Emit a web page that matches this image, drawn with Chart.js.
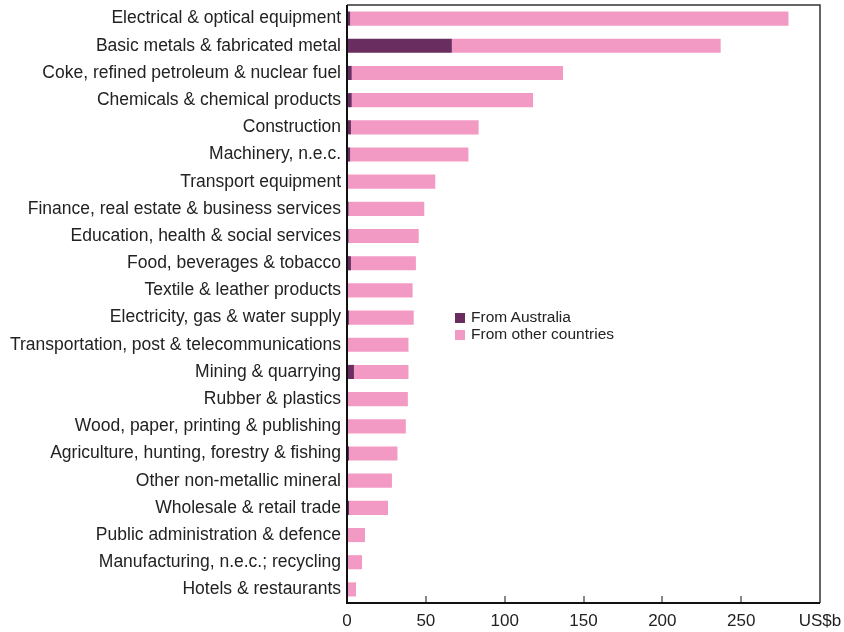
<!DOCTYPE html>
<html>
<head>
<meta charset="utf-8">
<script src="https://cdn.jsdelivr.net/npm/chart.js@4"></script>
<style>
  body { margin: 0; background: #fff; }
  #wrap { position: relative; width: 844px; height: 632px; }
  #legend { position: absolute; left: 455px; top: 308px; font: 15.5px "Liberation Sans", Arial, sans-serif; color: #222; line-height: 17px; }
  #legend span.box { display: inline-block; width: 10px; height: 10px; margin-right: 6px; vertical-align: -1px; }
</style>
</head>
<body>
<div id="wrap">
  <canvas id="myChart" width="844" height="632"></canvas>
  <div id="legend"></div>
</div>
<script>
'use strict';
// categories, top to bottom
let industries = ['Electrical & optical equipment', 'Basic metals & fabricated metal',
    'Coke, refined petroleum & nuclear fuel', 'Chemicals & chemical products', 'Construction',
    'Machinery, n.e.c.', 'Transport equipment', 'Finance, real estate & business services',
    'Education, health & social services', 'Food, beverages & tobacco', 'Textile & leather products',
    'Electricity, gas & water supply', 'Transportation, post & telecommunications', 'Mining & quarrying',
    'Rubber & plastics', 'Wood, paper, printing & publishing', 'Agriculture, hunting, forestry & fishing',
    'Other non-metallic mineral', 'Wholesale & retail trade', 'Public administration & defence',
    'Manufacturing, n.e.c.; recycling', 'Hotels & restaurants'];

// US$b
let fromAustralia = [2, 66.5, 3, 3, 2.5, 2, 0.5, 1, 1, 2.5, 0.3, 1.2, 0.4, 4.4, 0.3, 0.5, 1.3, 0.4, 1.3, 0.3, 0.4, 0.2];
let totals = [280, 237, 137, 118, 83.5, 77, 56, 49, 45.5, 43.7, 41.6, 42.3, 39, 39, 38.6, 37.3, 32, 28.5, 26, 11.4, 9.5, 5.7];
let fromOthers = totals.map((t, i) => +(t - fromAustralia[i]).toFixed(2));

let xTicks = [0, 50, 100, 150, 200, 250];
let unitLabel = 'US$b';

let darkColor = '#6a2d60';
let pinkColor = '#f39ac4';

// legend in html
let legendEl = document.getElementById('legend');
legendEl.innerHTML = '<div><span class="box" style="background:' + darkColor + '"></span>From Australia</div>' +
    '<div><span class="box" style="background:' + pinkColor + '"></span>From other countries</div>';

// frame + inward ticks
const framePlugin = {
    id: 'frame',
    afterDraw(chart) {
        let ctx = chart.ctx;
        let a = chart.chartArea;
        let xs = chart.scales.x;
        ctx.save();
        ctx.strokeStyle = '#888';
        ctx.lineWidth = 2;
        for (let i = 1; i < xTicks.length; i++) {
            let px = Math.round(xs.getPixelForValue(xTicks[i]));
            ctx.beginPath();
            ctx.moveTo(px, a.bottom);
            ctx.lineTo(px, a.bottom - 7);
            ctx.stroke();
        }
        ctx.strokeStyle = '#333';
        ctx.lineWidth = 1.5;
        ctx.beginPath();
        ctx.moveTo(a.left, a.top);
        ctx.lineTo(a.right, a.top);
        ctx.lineTo(a.right, a.bottom);
        ctx.stroke();
        ctx.strokeStyle = '#111';
        ctx.lineWidth = 2;
        ctx.beginPath();
        ctx.moveTo(a.left, a.top);
        ctx.lineTo(a.left, a.bottom);
        ctx.lineTo(a.right, a.bottom);
        ctx.stroke();
        ctx.restore();
    }
};

Chart.defaults.font.family = '"Liberation Sans", Arial, sans-serif';

let ctx = document.getElementById('myChart').getContext('2d');
let myChart = new Chart(ctx, {
    type: 'bar',
    data: {
        labels: industries,
        datasets: [{
            label: 'From Australia',
            data: fromAustralia,
            backgroundColor: darkColor,
            borderWidth: 0
        }, {
            label: 'From other countries',
            data: fromOthers,
            backgroundColor: pinkColor,
            borderWidth: 0
        }]
    },
    options: {
        indexAxis: 'y',
        responsive: false,
        animation: false,
        datasets: {
            bar: { barPercentage: 0.52, categoryPercentage: 1 }
        },
        layout: { padding: { left: 0, right: 24, top: 5, bottom: 0 } },
        plugins: {
            legend: { display: false },
            tooltip: { enabled: false }
        },
        scales: {
            x: {
                stacked: true,
                min: 0,
                max: 300,
                grid: { display: false, drawTicks: false },
                border: { display: false },
                afterBuildTicks(scale) {
                    scale.ticks = xTicks.concat([300]).map(v => ({ value: v }));
                },
                afterFit(scale) {
                    scale.height = 29;
                    scale.paddingLeft = 0;
                    scale.paddingRight = 0;
                },
                ticks: {
                    padding: 8,
                    color: '#222',
                    font: { size: 17 },
                    maxRotation: 0,
                    callback: v => v === 300 ? unitLabel : v
                }
            },
            y: {
                stacked: true,
                grid: { display: false, drawTicks: false },
                border: { display: false },
                afterFit(scale) {
                    scale.width = 347;
                    scale.paddingTop = 0;
                    scale.paddingBottom = 0;
                },
                ticks: {
                    padding: 6,
                    color: '#222',
                    font: { size: 17.5 },
                    autoSkip: false
                }
            }
        }
    },
    plugins: [framePlugin]
});
</script>
</body>
</html>
